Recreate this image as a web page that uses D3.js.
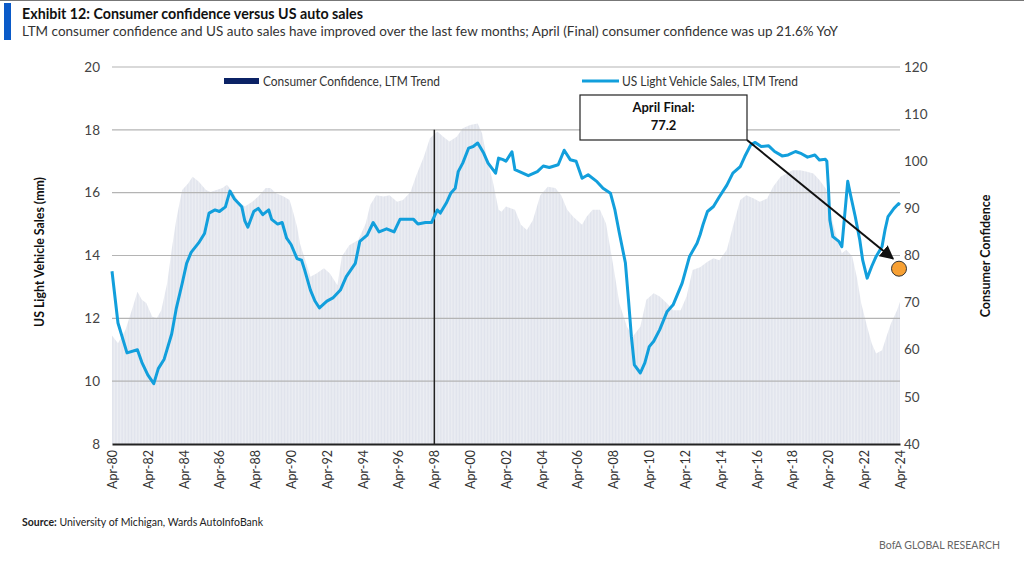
<!DOCTYPE html>
<html><head><meta charset="utf-8">
<script src="https://cdn.jsdelivr.net/npm/d3@7"></script>
<style>
body{margin:0;background:#fff;}
svg{display:block;font-family:Lato,"Open Sans",sans-serif;}
</style></head>
<body><svg id="c" width="1024" height="569"></svg>
<script>
// ---------- DATA ----------
const salesDates = ["1980-04","1980-08","1981-02","1981-09","1981-12","1982-04","1982-08","1982-11","1983-03","1983-08","1983-11","1984-03","1984-06","1984-09","1985-02","1985-06","1985-09","1986-01","1986-04","1986-08","1986-11","1987-02","1987-07","1987-09","1987-11","1988-03","1988-06","1988-09","1989-01","1989-03","1989-07","1989-10","1990-01","1990-04","1990-08","1990-11","1991-01","1991-05","1991-08","1991-11","1992-04","1992-08","1993-01","1993-05","1993-11","1994-02","1994-07","1994-11","1995-03","1995-08","1996-01","1996-05","1996-09","1997-02","1997-05","1997-10","1998-02","1998-06","1998-08","1998-12","1999-03","1999-06","1999-08","1999-11","2000-03","2000-06","2000-09","2001-01","2001-04","2001-09","2001-11","2002-02","2002-04","2002-08","2002-10","2003-01","2003-07","2004-01","2004-05","2004-09","2005-03","2005-07","2005-11","2006-03","2006-07","2006-11","2007-05","2007-09","2008-02","2008-05","2008-08","2008-12","2009-02","2009-04","2009-06","2009-10","2010-01","2010-04","2010-07","2010-11","2011-04","2011-08","2012-02","2012-07","2012-12","2013-02","2013-04","2013-07","2013-11","2014-03","2014-08","2014-12","2015-05","2015-08","2015-12","2016-03","2016-07","2016-12","2017-04","2017-09","2018-01","2018-06","2018-10","2019-02","2019-07","2019-10","2020-02","2020-03","2020-04","2020-05","2020-07","2020-11","2021-01","2021-03","2021-05","2021-07","2021-10","2022-01","2022-03","2022-06","2022-09","2022-12","2023-04","2023-06","2023-08","2023-12","2024-03","2024-04"];
const salesValues = [13.5,11.85,10.9,11.0,10.6,10.2,9.92,10.4,10.7,11.5,12.3,13.1,13.75,14.1,14.4,14.7,15.35,15.45,15.4,15.55,16.05,15.8,15.55,15.1,14.9,15.4,15.5,15.3,15.45,15.15,15.0,15.05,14.55,14.35,13.9,13.85,13.55,12.9,12.55,12.33,12.55,12.65,12.9,13.33,13.75,14.45,14.65,15.05,14.75,14.85,14.75,15.15,15.15,15.15,15.0,15.05,15.05,15.45,15.35,15.67,15.98,16.14,16.67,16.94,17.42,17.47,17.58,17.26,16.94,16.62,17.1,17.05,17.0,17.3,16.73,16.67,16.54,16.67,16.85,16.8,16.89,17.35,17.05,17.0,16.46,16.57,16.35,16.14,15.98,15.45,14.7,13.76,12.6,11.43,10.52,10.26,10.58,11.1,11.27,11.64,12.22,12.43,13.12,13.97,14.39,14.66,14.98,15.4,15.56,15.87,16.24,16.62,16.83,17.15,17.52,17.6,17.47,17.49,17.31,17.17,17.2,17.31,17.24,17.13,17.2,17.04,17.06,17.0,16.2,15.13,14.6,14.45,14.28,15.3,16.36,15.9,15.24,14.5,13.86,13.28,13.65,13.97,14.29,14.82,15.24,15.5,15.65,15.61];

const confDates = ["1980-04","1980-08","1981-01","1981-06","1981-09","1981-12","1982-03","1982-07","1982-10","1983-01","1983-05","1983-08","1983-11","1984-03","1984-07","1984-10","1985-02","1985-07","1985-10","1986-02","1986-06","1986-09","1987-01","1987-05","1987-09","1988-02","1988-06","1988-11","1989-02","1989-06","1989-11","1990-03","1990-05","1990-08","1990-10","1990-12","1991-05","1991-09","1992-02","1992-06","1992-11","1993-02","1993-07","1994-01","1994-06","1994-09","1995-01","1995-06","1995-10","1996-03","1996-07","1996-12","1997-04","1997-09","1998-01","1998-06","1998-10","1999-02","1999-07","1999-11","2000-04","2000-09","2000-12","2001-03","2001-07","2001-11","2002-01","2002-04","2002-10","2003-02","2003-06","2003-10","2004-03","2004-08","2005-01","2005-05","2005-09","2006-01","2006-07","2006-10","2007-02","2007-07","2007-11","2008-04","2008-08","2009-01","2009-05","2009-10","2010-02","2010-07","2010-11","2011-04","2011-08","2012-01","2012-05","2012-09","2013-02","2013-07","2013-11","2014-03","2014-08","2014-12","2015-05","2015-09","2016-02","2016-06","2016-11","2017-03","2017-08","2017-12","2018-04","2018-09","2019-01","2019-06","2019-10","2020-03","2020-06","2020-10","2021-01","2021-04","2021-08","2021-11","2022-02","2022-06","2022-09","2022-12","2023-04","2023-07","2023-10","2024-02","2024-04"];
const confValues = [63,61.4,64.2,69.1,72.3,70.6,69.9,67.0,66.7,68.4,74.1,81.2,87.5,93.9,95.3,96.7,95.7,93.9,93.5,93.9,94.3,95.0,93.5,91.4,90.4,91.4,92.5,94.3,94.3,93.2,92.5,91.8,89.7,86.1,82.5,80.5,75.5,76.2,77.3,76.2,73.7,79.8,82.2,83.3,86.8,90.7,92.8,92.5,92.8,91.4,91.8,93.5,97.1,101.0,104.9,106.3,105.2,104.2,105.2,107.0,107.7,108.0,105.9,101.0,96.0,89.7,89.3,90.4,89.7,86.5,85.4,87.5,92.8,94.6,94.3,92.8,89.7,88.2,86.5,88.2,89.7,89.7,86.8,77.6,69.8,64.9,62.8,64.9,70.6,72.0,71.3,69.8,68.4,68.4,71.3,76.9,77.5,78.7,79.4,79.0,81.2,86.1,91.8,92.8,92.1,91.4,92.1,94.6,96.7,97.4,98.1,98.1,97.8,97.4,96.0,93.9,88.2,83.3,80.5,81.2,79.8,75.5,69.8,64.9,61.4,59.2,59.9,62.8,65.6,68.4,70.2];

const leftTicks = [8,10,12,14,16,18,20];
const rightTicks = [40,50,60,70,80,90,100,110,120];
const xTickYears = [1980,1982,1984,1986,1988,1990,1992,1994,1996,1998,2000,2002,2004,2006,2008,2010,2012,2014,2016,2018,2020,2022,2024];
const aprilFinal = {date:"2024-04", value:77.2, label:["April Final:","77.2"]};
const markerDate = "1998-04";

// ---------- SETUP ----------
const parse = d3.timeParse("%Y-%m");
const svg = d3.select("#c");
const x = d3.scaleTime().domain([parse("1980-04"), parse("2024-04")]).range([112, 900]);
const yL = d3.scaleLinear().domain([8,20]).range([444,67]);
const yR = d3.scaleLinear().domain([40,120]).range([444,67]);

const sales = salesDates.map((d,i)=>({date:parse(d), v:salesValues[i]}));
const conf = confDates.map((d,i)=>({date:parse(d), v:confValues[i]}));

// header
svg.append("line").attr("x1",0).attr("x2",1024).attr("y1",0.5).attr("y2",0.5).attr("stroke","#777").attr("stroke-width",1);
svg.append("rect").attr("x",4).attr("y",3).attr("width",7).attr("height",37).attr("fill","#0a5ac8");
svg.append("text").attr("x",22).attr("y",19).attr("font-size",14.5).attr("font-weight",700).attr("fill","#111")
  .attr("textLength",341).attr("lengthAdjust","spacingAndGlyphs")
  .text("Exhibit 12: Consumer confidence versus US auto sales");
svg.append("text").attr("x",22).attr("y",36).attr("font-size",14).attr("fill","#333")
  .attr("textLength",816).attr("lengthAdjust","spacingAndGlyphs")
  .text("LTM consumer confidence and US auto sales have improved over the last few months; April (Final) consumer confidence was up 21.6% YoY");

// stripe pattern for monthly bars look
const monthW = x(parse("1980-05")) - x(parse("1980-04"));
const defs = svg.append("defs");
const pat = defs.append("pattern").attr("id","stripes").attr("patternUnits","userSpaceOnUse")
  .attr("x",112).attr("width",monthW).attr("height",10);
pat.append("rect").attr("width",monthW).attr("height",10).attr("fill","#f5f6f9");
pat.append("rect").attr("width",monthW*0.7).attr("height",10).attr("fill","#e0e3ec");

// confidence bars (area)
const area = d3.area().x(d=>x(d.date)).y0(yR(40)).y1(d=>yR(d.v));
svg.append("path").datum(conf).attr("d",area).attr("fill","url(#stripes)");

// gridlines
svg.append("g").selectAll("line").data(leftTicks.filter(t=>t>8)).join("line")
  .attr("x1",112).attr("x2",900).attr("y1",d=>yL(d)).attr("y2",d=>yL(d))
  .attr("stroke","#b4b4b4").attr("stroke-width",1.2);

// left axis labels
svg.append("g").selectAll("text").data(leftTicks).join("text")
  .attr("x",100).attr("y",d=>yL(d)).attr("dy","0.35em").attr("text-anchor","end")
  .attr("font-size",13.5).attr("fill","#444").text(d=>d);
// right axis labels
svg.append("g").selectAll("text").data(rightTicks).join("text")
  .attr("x",904).attr("y",d=>yR(d)).attr("dy","0.35em").attr("text-anchor","start")
  .attr("font-size",13.5).attr("fill","#444").text(d=>d);

// x axis
const xAxis = d3.axisBottom(x).tickValues(xTickYears.map(y=>new Date(y,3,1)))
  .tickFormat(d3.timeFormat("%b-%y")).tickSize(0).tickPadding(6);
const gx = svg.append("g").attr("transform","translate(0,444)").call(xAxis);
gx.select(".domain").attr("stroke","#222").attr("stroke-width",2);
gx.selectAll("text").attr("transform","rotate(-90)").attr("text-anchor","end")
  .attr("x",-6).attr("y",0).attr("dy","0.35em")
  .attr("font-size",12.5).attr("fill","#333").attr("font-family","Lato, sans-serif");

// Apr-98 vertical marker
svg.append("line").attr("x1",x(parse(markerDate))).attr("x2",x(parse(markerDate)))
  .attr("y1",yL(18)).attr("y2",yL(8)).attr("stroke","#222").attr("stroke-width",1.5);

// sales line
const line = d3.line().x(d=>x(d.date)).y(d=>yL(d.v)).curve(d3.curveLinear);
svg.append("path").datum(sales).attr("d",line).attr("fill","none")
  .attr("stroke","#129fdc").attr("stroke-width",3).attr("stroke-linejoin","round");

// axis titles
svg.append("text").attr("transform","translate(44,252) rotate(-90)").attr("text-anchor","middle")
  .attr("font-size",12.5).attr("font-weight",700).attr("fill","#111")
  .attr("textLength",150).attr("lengthAdjust","spacingAndGlyphs").text("US Light Vehicle Sales (mm)");
svg.append("text").attr("transform","translate(990,256) rotate(-90)").attr("text-anchor","middle")
  .attr("font-size",12.5).attr("font-weight",700).attr("fill","#111").text("Consumer Confidence");

// legend
svg.append("rect").attr("x",224).attr("y",78).attr("width",35).attr("height",6).attr("fill","#0b2265");
svg.append("text").attr("x",263).attr("y",81).attr("dy","0.35em").attr("font-size",13).attr("fill","#333")
  .attr("textLength",177).attr("lengthAdjust","spacingAndGlyphs").text("Consumer Confidence, LTM Trend");
svg.append("line").attr("x1",582).attr("x2",619).attr("y1",81).attr("y2",81).attr("stroke","#129fdc").attr("stroke-width",3);
svg.append("text").attr("x",622).attr("y",81).attr("dy","0.35em").attr("font-size",13).attr("fill","#333")
  .attr("textLength",176).attr("lengthAdjust","spacingAndGlyphs").text("US Light Vehicle Sales, LTM Trend");

// annotation
const bx=580, by=95, bw=167, bh=45;
svg.append("rect").attr("x",bx).attr("y",by).attr("width",bw).attr("height",bh)
  .attr("fill","#fff").attr("stroke","#222").attr("stroke-width",1.2);
svg.append("text").attr("x",bx+bw/2).attr("y",112).attr("text-anchor","middle").attr("font-size",13)
  .attr("font-weight",700).attr("fill","#111").text(aprilFinal.label[0]);
svg.append("text").attr("x",bx+bw/2).attr("y",130).attr("text-anchor","middle").attr("font-size",13)
  .attr("font-weight",700).attr("fill","#111").text(aprilFinal.label[1]);
defs.append("marker").attr("id","arr").attr("viewBox","0 0 10 10").attr("refX",9).attr("refY",5)
  .attr("markerWidth",7).attr("markerHeight",7).attr("orient","auto")
  .append("path").attr("d","M0,0L10,5L0,10z").attr("fill","#111");
const px = x(parse(aprilFinal.date)), py = yR(aprilFinal.value);
svg.append("line").attr("x1",bx+bw).attr("y1",by+bh).attr("x2",px-7).attr("y2",py-10)
  .attr("stroke","#111").attr("stroke-width",2).attr("marker-end","url(#arr)");
svg.append("circle").attr("cx",px-1).attr("cy",py).attr("r",7.5)
  .attr("fill","#f7a033").attr("stroke","#333").attr("stroke-width",1);

// footer
const src = svg.append("text").attr("x",22).attr("y",526).attr("font-size",10.5).attr("fill","#222");
src.append("tspan").attr("font-weight",700).text("Source:");
src.append("tspan").text(" University of Michigan, Wards AutoInfoBank");
svg.append("text").attr("x",1000).attr("y",549).attr("text-anchor","end").attr("font-size",10.5)
  .attr("fill","#666").text("BofA GLOBAL RESEARCH");
</script></body></html>
